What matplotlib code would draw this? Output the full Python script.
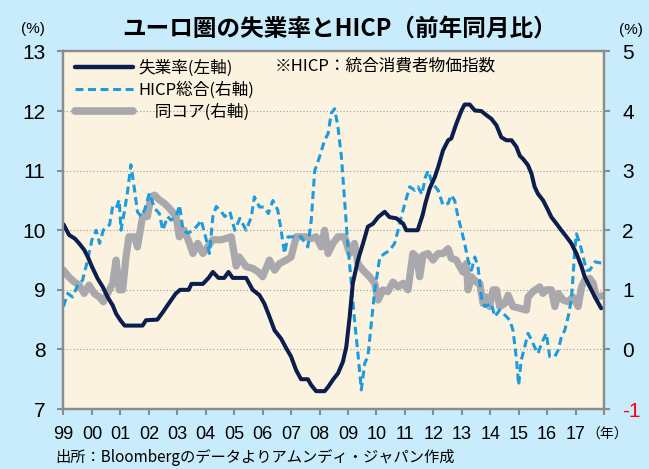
import numpy as np
import matplotlib.pyplot as plt
from matplotlib.lines import Line2D

# 失業率 (左軸, %)
unemp_t = [1999.0, 1999.2, 1999.4, 1999.55, 1999.73, 1999.85, 2000.0, 2000.2, 2000.38, 2000.55,
           2000.73, 2000.85, 2001.0, 2001.15, 2001.78, 2001.9, 2002.3, 2002.5, 2002.7, 2002.95,
           2003.1, 2003.4, 2003.5, 2003.9, 2004.1, 2004.25, 2004.45, 2004.65, 2004.8, 2004.95,
           2005.42, 2005.65, 2005.89, 2006.06, 2006.24, 2006.42, 2006.65, 2006.83, 2007.0, 2007.18,
           2007.35, 2007.59, 2007.71, 2007.88, 2008.18, 2008.3, 2008.47, 2008.65, 2008.82, 2008.94,
           2009.06, 2009.17, 2009.35, 2009.53, 2009.7, 2009.88, 2010.06, 2010.29, 2010.46, 2010.7,
           2010.94, 2011.05, 2011.45, 2011.62, 2011.72, 2011.87, 2012.05, 2012.17, 2012.34, 2012.52,
           2012.63, 2012.81, 2012.99, 2013.1, 2013.28, 2013.46, 2013.69, 2013.87, 2014.04, 2014.22,
           2014.39, 2014.57, 2014.75, 2014.92, 2015.04, 2015.15, 2015.33, 2015.45, 2015.56, 2015.68,
           2015.86, 2016.03, 2016.15, 2016.33, 2016.5, 2016.68, 2016.85, 2017.03, 2017.21, 2017.32,
           2017.5, 2017.68, 2017.9]
unemp_v = [10.1, 9.92, 9.86, 9.78, 9.67, 9.56, 9.39, 9.19, 9.05, 8.88,
           8.74, 8.6, 8.49, 8.4, 8.4, 8.49, 8.5, 8.63, 8.77, 8.94,
           9.0, 9.0, 9.1, 9.1, 9.2, 9.3, 9.2, 9.2, 9.3, 9.2,
           9.2, 9.0, 8.91, 8.77, 8.55, 8.32, 8.18, 8.02, 7.88, 7.65,
           7.5, 7.5, 7.4, 7.3, 7.3, 7.37, 7.49, 7.6, 7.79, 8.04,
           8.55, 9.11, 9.5, 9.78, 10.06, 10.11, 10.22, 10.31, 10.22, 10.2,
           10.11, 10.0, 10.0, 10.25, 10.45, 10.7, 10.89, 11.06, 11.34, 11.51,
           11.54, 11.79, 12.01, 12.11, 12.11, 12.01, 12.0, 11.93, 11.87, 11.76,
           11.56, 11.51, 11.51, 11.4, 11.25, 11.2, 11.09, 10.95, 10.73, 10.61,
           10.5, 10.34, 10.22, 10.11, 10.0, 9.89, 9.78, 9.61, 9.39, 9.22,
           9.05, 8.88, 8.69]

# HICP総合 (右軸, 前年同月比 %)
hicp_t = [1999.0, 1999.15, 1999.32, 1999.5, 1999.67, 1999.85, 2000.0, 2000.15, 2000.27, 2000.4,
          2000.5, 2000.62, 2000.73, 2000.85, 2000.96, 2001.02, 2001.14, 2001.26, 2001.37, 2001.5,
          2001.6, 2001.73, 2001.85, 2002.02, 2002.2, 2002.37, 2002.49, 2002.66, 2002.78, 2002.96,
          2003.08, 2003.2, 2003.37, 2003.55, 2003.73, 2003.84, 2004.02, 2004.13, 2004.25, 2004.37,
          2004.55, 2004.67, 2004.85, 2005.02, 2005.2, 2005.42, 2005.6, 2005.71, 2005.89, 2006.06,
          2006.2, 2006.36, 2006.53, 2006.65, 2006.77, 2006.89, 2007.06, 2007.35, 2007.59, 2007.71,
          2007.83, 2008.0, 2008.18, 2008.3, 2008.41, 2008.53, 2008.65, 2008.77, 2008.88, 2009.0,
          2009.12, 2009.23, 2009.35, 2009.47, 2009.59, 2009.7, 2009.82, 2009.94, 2010.12, 2010.29,
          2010.46, 2010.64, 2010.76, 2010.87, 2011.0, 2011.17, 2011.35, 2011.46, 2011.6, 2011.72,
          2011.82, 2011.95, 2012.17, 2012.34, 2012.52, 2012.63, 2012.75, 2012.87, 2012.99, 2013.1,
          2013.22, 2013.34, 2013.46, 2013.57, 2013.69, 2013.81, 2014.04, 2014.16, 2014.33, 2014.57,
          2014.69, 2014.8, 2014.92, 2015.0, 2015.09, 2015.21, 2015.33, 2015.45, 2015.56, 2015.68,
          2015.8, 2015.97, 2016.09, 2016.27, 2016.39, 2016.5, 2016.62, 2016.74, 2016.85, 2016.91,
          2016.97, 2017.03, 2017.15, 2017.27, 2017.38, 2017.5, 2017.68, 2017.9]
hicp_v = [0.72, 0.94, 0.88, 1.08, 1.16, 1.5, 1.84, 2.0, 1.78, 2.0,
          2.06, 2.09, 2.4, 2.37, 2.51, 2.0, 2.31, 2.67, 3.1, 2.67,
          2.31, 2.23, 2.34, 2.62, 2.37, 2.28, 2.0, 2.23, 2.17, 2.23,
          2.42, 2.0, 1.95, 2.0, 2.09, 2.17, 1.84, 1.61, 2.23, 2.4,
          2.31, 2.23, 2.31, 2.0, 2.2, 2.0, 2.22, 2.56, 2.39, 2.39,
          2.28, 2.5, 2.34, 2.0, 1.61, 1.89, 1.89, 1.89, 1.72, 2.17,
          3.0, 3.23, 3.51, 3.62, 3.96, 4.04, 3.73, 3.23, 2.5, 1.72,
          1.11, 0.49, -0.07, -0.68, -0.23, -0.12, 0.44, 0.99, 1.55, 1.61,
          1.66, 1.78, 2.0, 2.22, 2.45, 2.73, 2.67, 2.73, 2.6, 2.89,
          3.0, 2.8, 2.67, 2.42, 2.45, 2.59, 2.5, 2.22, 2.0, 1.78,
          1.5, 1.33, 1.55, 1.39, 0.88, 0.72, 0.77, 0.55, 0.66, 0.55,
          0.49, 0.32, -0.15, -0.6, -0.18, 0.04, 0.27, 0.16, 0.04, -0.07,
          0.1, 0.27, -0.12, -0.12, -0.01, 0.21, 0.32, 0.55, 0.83, 1.22,
          1.66, 1.94, 1.78, 1.55, 1.33, 1.33, 1.47, 1.45]

# 同コア (右軸)
core_t = [1999.0, 1999.18, 1999.36, 1999.55, 1999.73, 1999.9, 2000.08, 2000.26, 2000.4, 2000.55,
          2000.73, 2000.85, 2000.96, 2001.08, 2001.2, 2001.3, 2001.5, 2001.6, 2001.78, 2001.95,
          2002.07, 2002.2, 2002.37, 2002.55, 2002.72, 2002.96, 2003.07, 2003.25, 2003.43, 2003.55,
          2003.72, 2003.9, 2004.07, 2004.25, 2004.55, 2004.9, 2005.07, 2005.18, 2005.42, 2005.65,
          2005.85, 2006.0, 2006.24, 2006.42, 2006.59, 2006.83, 2007.0, 2007.18, 2007.55, 2007.71,
          2007.88, 2008.06, 2008.18, 2008.3, 2008.47, 2008.65, 2008.88, 2009.06, 2009.23, 2009.35,
          2009.53, 2009.76, 2009.94, 2010.06, 2010.23, 2010.4, 2010.58, 2010.76, 2010.94, 2011.11,
          2011.28, 2011.42, 2011.52, 2011.64, 2011.81, 2011.99, 2012.17, 2012.34, 2012.52, 2012.63,
          2012.81, 2012.93, 2013.04, 2013.16, 2013.22, 2013.34, 2013.51, 2013.63, 2013.75, 2013.87,
          2013.98, 2014.1, 2014.22, 2014.33, 2014.51, 2014.63, 2014.8, 2015.04, 2015.27, 2015.33,
          2015.5, 2015.74, 2015.85, 2015.97, 2016.15, 2016.27, 2016.39, 2016.56, 2016.74, 2016.91,
          2017.09, 2017.21, 2017.32, 2017.5, 2017.62, 2017.73, 2017.93]
core_v = [1.33, 1.22, 1.14, 1.08, 0.94, 1.08, 0.94, 0.88, 0.8, 0.94,
          1.11, 1.5, 1.0, 1.0, 1.56, 1.89, 1.89, 1.72, 2.23, 2.23,
          2.56, 2.59, 2.51, 2.45, 2.37, 2.23, 1.89, 2.0, 1.78, 1.61,
          1.78, 1.61, 1.72, 1.84, 1.84, 1.89, 1.4, 1.55, 1.39, 1.36,
          1.3, 1.22, 1.5, 1.33, 1.44, 1.5, 1.55, 1.89, 1.89, 1.86,
          1.89, 1.72, 2.0, 1.61, 1.78, 1.89, 1.89, 1.61, 1.78, 1.44,
          1.33, 1.22, 1.11, 0.83, 1.0, 0.97, 1.13, 1.05, 1.11, 1.0,
          1.61, 1.55, 1.22, 1.58, 1.61, 1.5, 1.61, 1.61, 1.69, 1.53,
          1.5, 1.39, 1.3, 1.44, 1.0, 1.22, 1.13, 1.11, 0.77, 0.88,
          0.72, 1.0, 1.0, 0.72, 0.77, 0.91, 0.72, 0.69, 0.66, 0.88,
          0.97, 1.05, 0.94, 1.0, 1.0, 0.72, 0.94, 0.83, 0.8, 0.88,
          0.72, 1.05, 1.16, 1.19, 1.11, 0.88, 0.9]

years = list(range(1999, 2019))
year_labels = ['99', '00', '01', '02', '03', '04', '05', '06', '07', '08', '09',
               '10', '11', '12', '13', '14', '15', '16', '17', '']
left_ticks = [7, 8, 9, 10, 11, 12, 13]
right_ticks = [-1, 0, 1, 2, 3, 4, 5]

JP = ['Noto Sans CJK JP', 'DejaVu Sans']
NUM = ['Liberation Sans', 'DejaVu Sans']

BG = '#C8ECFB'
PANEL = '#FBF3E0'
NAVY = '#0C1E4E'
BLUE = '#1C9CDE'
GRAY = '#A9A9AD'
SPINE = '#8C8C8C'

fig = plt.figure(figsize=(6.49, 4.69), dpi=100, facecolor=BG)
ax = fig.add_axes([0.0978, 0.1279, 0.8329, 0.7623])
axr = ax.twinx()
# 失業率を一番上に描くため左軸を前面へ
ax.set_zorder(axr.get_zorder() + 1)
ax.patch.set_visible(False)
axr.patch.set_visible(True)
axr.patch.set_facecolor(PANEL)

axr.yaxis.grid(True, linestyle=(0, (1, 2)), color='#9A9A9A', linewidth=0.8)

core_line, = axr.plot(core_t, core_v, color=GRAY, lw=5.2, solid_joinstyle='round',
                      solid_capstyle='round')
hicp_line, = axr.plot(hicp_t, hicp_v, color=BLUE, lw=2.2, dashes=(2.6, 1.5))
unemp_line, = ax.plot(unemp_t, unemp_v, color=NAVY, lw=2.9, solid_joinstyle='round',
                      solid_capstyle='round')

ax.set_xlim(1999, 2018)
ax.set_ylim(7, 13)
axr.set_ylim(-1, 5)

for a in (ax, axr):
    for s in a.spines.values():
        s.set_color(SPINE)
        s.set_linewidth(1.6)

ax.set_xticks(years)
ax.set_xticklabels(year_labels, fontsize=13, family=NUM)
ax.set_yticks(left_ticks)
ax.set_yticklabels([str(v) for v in left_ticks], fontsize=15, family=NUM)
axr.set_yticks(right_ticks)
rlabels = axr.set_yticklabels([str(v) for v in right_ticks], fontsize=15, family=NUM)
for t in rlabels:
    if t.get_text() == '-1':
        t.set_color('red')

ax.tick_params(axis='x', direction='out', length=4, width=1.5, color=SPINE, pad=8.5)
ax.tick_params(axis='y', direction='out', length=4, width=1.5, color=SPINE, pad=9)
axr.tick_params(axis='y', direction='out', length=4, width=1.5, color=SPINE, pad=9)

leg_handles = [Line2D([], [], color=NAVY, lw=3.2, solid_capstyle='round'),
               Line2D([], [], color=BLUE, lw=2.2, dashes=(2.6, 1.5)),
               Line2D([], [], color=GRAY, lw=5.5, solid_capstyle='round')]
leg_labels = ['失業率(左軸)', 'HICP総合(右軸)', '\u2002\u2002同コア(右軸)']
ax.legend(leg_handles, leg_labels, loc='upper left', bbox_to_anchor=(0.021, 0.976),
          frameon=False, prop={'family': JP, 'size': 12}, handlelength=3.5,
          handletextpad=0.3, labelspacing=0.25, borderaxespad=0, borderpad=0)

fig.text(340 / 649, 1 - 29 / 469, 'ユーロ圏の失業率とHICP（前年同月比）', ha='center', va='center',
         fontsize=17, fontweight='bold', family=JP)
fig.text(32.5 / 649, 1 - 29 / 469, '(%)', ha='center', va='center', fontsize=11, family=NUM)
fig.text(631 / 649, 1 - 30 / 469, '(%)', ha='center', va='center', fontsize=11, family=NUM)
fig.text(275 / 649, 1 - 66 / 469, '※HICP：統合消費者物価指数', ha='left', va='center',
         fontsize=12, family=JP)
fig.text(586 / 649, 1 - 435 / 469, '（年）', ha='left', va='center', fontsize=10, family=JP)
fig.text(55 / 649, 1 - 457 / 469, '出所：Bloombergのデータよりアムンディ・ジャパン作成',
         ha='left', va='center', fontsize=11, family=JP)

fig.savefig('out.png', dpi=100, facecolor=BG)
